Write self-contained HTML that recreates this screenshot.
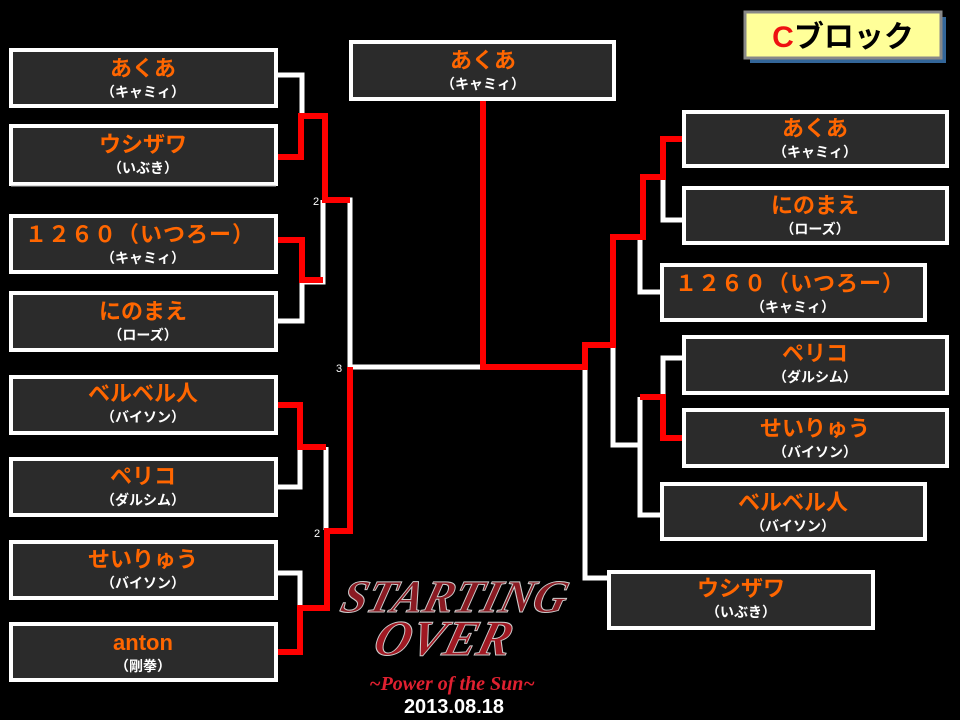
<!DOCTYPE html>
<html><head><meta charset="utf-8"><style>
html,body{margin:0;padding:0;background:#000;}
svg{display:block}
.n{font-family:"Liberation Sans","Noto Sans CJK JP",sans-serif;font-weight:bold;font-size:22px;fill:#ff6600;text-anchor:middle}
.s{font-family:"Liberation Sans","Noto Sans CJK JP",sans-serif;font-weight:bold;font-size:14px;fill:#fff;text-anchor:middle}
.b{fill:#2b2b2b;stroke:#fff;stroke-width:4}
.w{stroke:#fff;stroke-width:5;fill:none}
.r{stroke:#f00;stroke-width:6;fill:none}
</style></head><body>
<svg width="960" height="720" viewBox="0 0 960 720" xmlns="http://www.w3.org/2000/svg">
<rect width="960" height="720" fill="#000"/>
<g class="w">
<polyline points="278,75 302,75 302,116"/>
<polyline points="278,321 302,321 302,282 323,282 323,200"/>
<polyline points="323,200 350,200 350,367 483,367"/>
<polyline points="278,487 300,487 300,447"/>
<polyline points="326,447 326,530"/>
<polyline points="278,573 300,573 300,608"/>
<polyline points="663,177 663,220 683,220"/>
<polyline points="640,237 640,292 660,292"/>
<polyline points="613,345 613,445 640,445"/>
<polyline points="640,397 640,515 660,515"/>
<polyline points="663,397 663,358 683,358"/>
<polyline points="585,357 585,578 607,578"/>
</g>
<g class="r">
<polyline points="278,157 301,157 301,116 325,116 325,200 350,200"/>
<polyline points="278,240 302,240 302,280 323,280"/>
<polyline points="278,405 300,405 300,447 326,447"/>
<polyline points="278,652 300,652 300,608 327,608 327,531 350,531 350,367"/>
<polyline points="483,101 483,367 585,367 585,345 613,345 613,237 643,237 643,177 663,177 663,139 683,139"/>
<polyline points="640,397 663,397 663,438 683,438"/>
</g>
<text x="313" y="205" font-family="Liberation Sans" font-size="11" fill="#fff">2</text>
<text x="336" y="372" font-family="Liberation Sans" font-size="11" fill="#fff">3</text>
<text x="314" y="537" font-family="Liberation Sans" font-size="11" fill="#fff">2</text>
<rect class="b" x="11" y="50" width="265" height="56"/>
<text class="n" x="143" y="76">あくあ</text><text class="s" x="143" y="97">（キャミィ）</text>
<rect class="b" x="11" y="126" width="265" height="58"/>
<line x1="11" y1="186" x2="276" y2="186" stroke="#bbb" stroke-width="1"/>
<text class="n" x="143" y="152">ウシザワ</text><text class="s" x="143" y="173">（いぶき）</text>
<rect class="b" x="11" y="216" width="265" height="56"/>
<text class="n" x="140" y="242" style="letter-spacing:1px">１２６０（いつろー）</text><text class="s" x="143" y="263">（キャミィ）</text>
<rect class="b" x="11" y="293" width="265" height="57"/>
<text class="n" x="143" y="319">にのまえ</text><text class="s" x="143" y="340">（ローズ）</text>
<rect class="b" x="11" y="377" width="265" height="56"/>
<text class="n" x="143" y="401">ベルベル人</text><text class="s" x="143" y="422">（バイソン）</text>
<rect class="b" x="11" y="459" width="265" height="56"/>
<text class="n" x="143" y="484">ペリコ</text><text class="s" x="143" y="505">（ダルシム）</text>
<rect class="b" x="11" y="542" width="265" height="56"/>
<text class="n" x="143" y="567">せいりゅう</text><text class="s" x="143" y="588">（バイソン）</text>
<rect class="b" x="11" y="624" width="265" height="56"/>
<text class="n" x="143" y="650">anton</text><text class="s" x="143" y="671">（剛拳）</text>
<rect class="b" x="351" y="42" width="263" height="57"/>
<text class="n" x="483" y="68">あくあ</text><text class="s" x="483" y="89">（キャミィ）</text>
<rect class="b" x="684" y="112" width="263" height="54"/>
<text class="n" x="815" y="136">あくあ</text><text class="s" x="815" y="157">（キャミィ）</text>
<rect class="b" x="684" y="188" width="263" height="55"/>
<text class="n" x="815" y="213">にのまえ</text><text class="s" x="815" y="234">（ローズ）</text>
<rect class="b" x="662" y="265" width="263" height="55"/>
<text class="n" x="790" y="291" style="letter-spacing:1px">１２６０（いつろー）</text><text class="s" x="793" y="312">（キャミィ）</text>
<rect class="b" x="684" y="337" width="263" height="56"/>
<text class="n" x="815" y="361">ペリコ</text><text class="s" x="815" y="382">（ダルシム）</text>
<rect class="b" x="684" y="410" width="263" height="56"/>
<text class="n" x="815" y="436">せいりゅう</text><text class="s" x="815" y="457">（バイソン）</text>
<rect class="b" x="662" y="484" width="263" height="55"/>
<text class="n" x="793" y="510">ベルベル人</text><text class="s" x="793" y="531">（バイソン）</text>
<rect class="b" x="609" y="572" width="264" height="56"/>
<text class="n" x="741" y="596">ウシザワ</text><text class="s" x="741" y="617">（いぶき）</text>
<rect x="750" y="17" width="196" height="46" fill="#336699"/>
<rect x="745" y="12" width="196" height="46" fill="#ffff99" stroke="#888" stroke-width="3"/>
<text x="843" y="47" text-anchor="middle" font-family="Liberation Sans,Noto Sans CJK JP,sans-serif" font-weight="bold" font-size="30"><tspan fill="#ee1111">C</tspan><tspan fill="#000">ブロック</tspan></text>
<g font-family="Liberation Serif,serif" font-style="italic" font-weight="bold">
<text x="455" y="612" text-anchor="middle" font-size="46" fill="#8a1a22" stroke="#ccc" stroke-width="1" transform="skewX(-15) translate(160,0)">STARTING</text>
<text x="445" y="655" text-anchor="middle" font-size="50" fill="#a01822" stroke="#ccc" stroke-width="1" transform="skewX(-15) translate(170,0)">OVER</text>
<text x="452" y="690" text-anchor="middle" font-size="20" fill="#e02030">~Power of the Sun~</text>
</g>
<text x="454" y="713" text-anchor="middle" font-family="Liberation Sans,sans-serif" font-weight="bold" font-size="20" fill="#fff">2013.08.18</text>
</svg>
</body></html>
